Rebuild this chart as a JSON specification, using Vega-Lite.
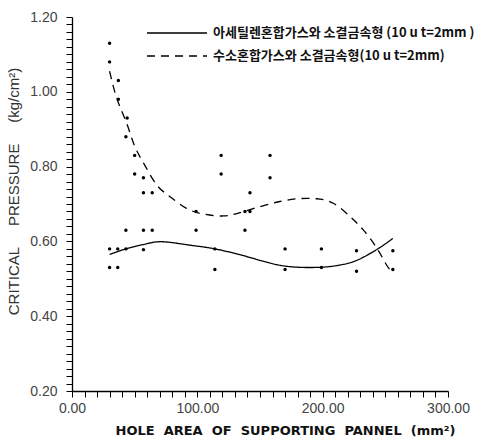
{
  "$schema": "https://vega.github.io/schema/vega-lite/v6.json",
  "width": 376,
  "height": 374,
  "autosize": {"type": "none"},
  "padding": {"left": 72, "top": 17, "right": 36, "bottom": 50},
  "background": "white",
  "config": {
    "view": {"stroke": null},
    "axis": {
      "grid": false,
      "domain": true,
      "ticks": true,
      "domainColor": "#000000",
      "tickColor": "#000000",
      "domainWidth": 1.3,
      "tickWidth": 1,
      "labelFont": "Liberation Sans",
      "labelFontSize": 14,
      "labelColor": "#444",
      "labelOverlap": false,
      "labelFlush": false,
      "labelBound": false
    }
  },
  "datasets": {
    "points": [
      {"area": 30, "pressure": 1.13}, {"area": 30, "pressure": 1.08},
      {"area": 37, "pressure": 1.03}, {"area": 37, "pressure": 0.98},
      {"area": 44, "pressure": 0.93}, {"area": 43, "pressure": 0.88},
      {"area": 50, "pressure": 0.83}, {"area": 50, "pressure": 0.78},
      {"area": 57, "pressure": 0.77}, {"area": 57, "pressure": 0.73},
      {"area": 64, "pressure": 0.73}, {"area": 43, "pressure": 0.63},
      {"area": 57, "pressure": 0.63}, {"area": 64, "pressure": 0.63},
      {"area": 99, "pressure": 0.68}, {"area": 99, "pressure": 0.63},
      {"area": 30, "pressure": 0.58}, {"area": 36.5, "pressure": 0.58},
      {"area": 43, "pressure": 0.58}, {"area": 57, "pressure": 0.578},
      {"area": 30, "pressure": 0.53}, {"area": 36.5, "pressure": 0.53},
      {"area": 119, "pressure": 0.83}, {"area": 119, "pressure": 0.78},
      {"area": 158, "pressure": 0.83}, {"area": 158, "pressure": 0.77},
      {"area": 142, "pressure": 0.73}, {"area": 138, "pressure": 0.68},
      {"area": 142, "pressure": 0.68}, {"area": 138, "pressure": 0.63},
      {"area": 114, "pressure": 0.58}, {"area": 114, "pressure": 0.525},
      {"area": 170, "pressure": 0.58}, {"area": 170, "pressure": 0.525},
      {"area": 199, "pressure": 0.58}, {"area": 199, "pressure": 0.53},
      {"area": 227, "pressure": 0.575}, {"area": 227, "pressure": 0.52},
      {"area": 256, "pressure": 0.575}, {"area": 256, "pressure": 0.525}
    ],
    "curves": [
      {"series": "아세틸렌혼합가스와  소결금속형 (10 u  t=2mm )", "area": 30, "pressure": 0.565},
      {"series": "아세틸렌혼합가스와  소결금속형 (10 u  t=2mm )", "area": 45, "pressure": 0.582},
      {"series": "아세틸렌혼합가스와  소결금속형 (10 u  t=2mm )", "area": 60, "pressure": 0.594},
      {"series": "아세틸렌혼합가스와  소결금속형 (10 u  t=2mm )", "area": 73, "pressure": 0.599},
      {"series": "아세틸렌혼합가스와  소결금속형 (10 u  t=2mm )", "area": 94, "pressure": 0.59},
      {"series": "아세틸렌혼합가스와  소결금속형 (10 u  t=2mm )", "area": 114, "pressure": 0.58},
      {"series": "아세틸렌혼합가스와  소결금속형 (10 u  t=2mm )", "area": 142, "pressure": 0.557},
      {"series": "아세틸렌혼합가스와  소결금속형 (10 u  t=2mm )", "area": 170, "pressure": 0.534},
      {"series": "아세틸렌혼합가스와  소결금속형 (10 u  t=2mm )", "area": 199, "pressure": 0.531},
      {"series": "아세틸렌혼합가스와  소결금속형 (10 u  t=2mm )", "area": 214, "pressure": 0.537},
      {"series": "아세틸렌혼합가스와  소결금속형 (10 u  t=2mm )", "area": 227, "pressure": 0.549},
      {"series": "아세틸렌혼합가스와  소결금속형 (10 u  t=2mm )", "area": 244, "pressure": 0.58},
      {"series": "아세틸렌혼합가스와  소결금속형 (10 u  t=2mm )", "area": 256, "pressure": 0.608},
      {"series": "수소혼합가스와 소결금속형(10 u t=2mm)", "area": 30, "pressure": 1.055},
      {"series": "수소혼합가스와 소결금속형(10 u t=2mm)", "area": 36, "pressure": 0.98},
      {"series": "수소혼합가스와 소결금속형(10 u t=2mm)", "area": 43.6, "pressure": 0.916},
      {"series": "수소혼합가스와 소결금속형(10 u t=2mm)", "area": 50, "pressure": 0.855},
      {"series": "수소혼합가스와 소결금속형(10 u t=2mm)", "area": 58, "pressure": 0.804},
      {"series": "수소혼합가스와 소결금속형(10 u t=2mm)", "area": 67.6, "pressure": 0.751},
      {"series": "수소혼합가스와 소결금속형(10 u t=2mm)", "area": 78, "pressure": 0.72},
      {"series": "수소혼합가스와 소결금속형(10 u t=2mm)", "area": 91, "pressure": 0.689},
      {"series": "수소혼합가스와 소결금속형(10 u t=2mm)", "area": 105, "pressure": 0.673},
      {"series": "수소혼합가스와 소결금속형(10 u t=2mm)", "area": 121, "pressure": 0.668},
      {"series": "수소혼합가스와 소결금속형(10 u t=2mm)", "area": 134, "pressure": 0.677},
      {"series": "수소혼합가스와 소결금속형(10 u t=2mm)", "area": 150, "pressure": 0.693},
      {"series": "수소혼합가스와 소결금속형(10 u t=2mm)", "area": 165, "pressure": 0.706},
      {"series": "수소혼합가스와 소결금속형(10 u t=2mm)", "area": 180, "pressure": 0.714},
      {"series": "수소혼합가스와 소결금속형(10 u t=2mm)", "area": 195, "pressure": 0.714},
      {"series": "수소혼합가스와 소결금속형(10 u t=2mm)", "area": 208.5, "pressure": 0.702},
      {"series": "수소혼합가스와 소결금속형(10 u t=2mm)", "area": 222, "pressure": 0.666},
      {"series": "수소혼합가스와 소결금속형(10 u t=2mm)", "area": 232.6, "pressure": 0.63},
      {"series": "수소혼합가스와 소결금속형(10 u t=2mm)", "area": 243.6, "pressure": 0.58},
      {"series": "수소혼합가스와 소결금속형(10 u t=2mm)", "area": 251, "pressure": 0.537},
      {"series": "수소혼합가스와 소결금속형(10 u t=2mm)", "area": 255, "pressure": 0.52}
    ],
    "frame": [{}],
    "yticks": [
      {"v": 0.2}, {"v": 0.22}, {"v": 0.24}, {"v": 0.26}, {"v": 0.28},
      {"v": 0.3}, {"v": 0.32}, {"v": 0.34}, {"v": 0.36}, {"v": 0.38},
      {"v": 0.4}, {"v": 0.42}, {"v": 0.44}, {"v": 0.46}, {"v": 0.48},
      {"v": 0.5}, {"v": 0.52}, {"v": 0.54}, {"v": 0.56}, {"v": 0.58},
      {"v": 0.6}, {"v": 0.62}, {"v": 0.64}, {"v": 0.66}, {"v": 0.68},
      {"v": 0.7}, {"v": 0.72}, {"v": 0.74}, {"v": 0.76}, {"v": 0.78},
      {"v": 0.8}, {"v": 0.82}, {"v": 0.84}, {"v": 0.86}, {"v": 0.88},
      {"v": 0.9}, {"v": 0.92}, {"v": 0.94}, {"v": 0.96}, {"v": 0.98},
      {"v": 1.0}, {"v": 1.02}, {"v": 1.04}, {"v": 1.06}, {"v": 1.08},
      {"v": 1.1}, {"v": 1.12}, {"v": 1.14}, {"v": 1.16}, {"v": 1.18},
      {"v": 1.2}
    ],
    "xticks": [
      {"v": 0}, {"v": 10}, {"v": 20}, {"v": 30}, {"v": 40}, {"v": 50},
      {"v": 60}, {"v": 70}, {"v": 80}, {"v": 90}, {"v": 100}, {"v": 110},
      {"v": 120}, {"v": 130}, {"v": 140}, {"v": 150}, {"v": 160}, {"v": 170},
      {"v": 180}, {"v": 190}, {"v": 200}, {"v": 210}, {"v": 220}, {"v": 230},
      {"v": 240}, {"v": 250}, {"v": 260}, {"v": 270}, {"v": 280}, {"v": 290},
      {"v": 300}
    ]
  },
  "encoding": {
    "x": {
      "field": "area",
      "type": "quantitative",
      "scale": {"domain": [0, 300], "nice": false, "zero": false},
      "axis": {
        "tickCount": 30,
        "tickSize": 6,
        "labelPadding": 4,
        "labelExpr": "datum.value % 100 === 0 ? format(datum.value, '.2f') : ''",
        "title": "HOLE\u00a0\u00a0AREA\u00a0\u00a0OF\u00a0\u00a0SUPPORTING\u00a0\u00a0PANNEL\u00a0\u00a0(mm²)",
        "titleFont": "DejaVu Sans",
        "titleFontWeight": "bold",
        "titleFontSize": 13,
        "titleColor": "#111",
        "titleX": 213,
        "titleY": 39,
        "titleBaseline": "middle",
        "titleAlign": "center"
      }
    },
    "y": {
      "field": "pressure",
      "type": "quantitative",
      "scale": {"domain": [0.2, 1.2], "nice": false, "zero": false},
      "axis": {
        "tickCount": 50,
        "tickSize": 6,
        "labelPadding": 9,
        "labelExpr": "abs(datum.value * 5 - round(datum.value * 5)) < 0.001 ? format(datum.value, '.2f') : ''",
        "title": "CRITICAL\u00a0\u00a0\u00a0\u00a0\u00a0PRESSURE\u00a0\u00a0\u00a0\u00a0\u00a0(kg/cm²)",
        "titleFont": "Liberation Sans",
        "titleFontWeight": "normal",
        "titleFontSize": 15,
        "titleColor": "#333",
        "titleAngle": -90,
        "titleX": -51,
        "titleY": 174,
        "titleAlign": "center",
        "titleBaseline": "bottom"
      }
    }
  },
  "layer": [
    {
      "data": {"name": "frame"},
      "mark": {"type": "rect", "fill": "black", "stroke": "black", "strokeWidth": 0.6, "height": 1},
      "encoding": {
        "x": {"datum": 0, "type": "quantitative"},
        "x2": {"datum": 300},
        "y": {"datum": 0.2, "type": "quantitative"}
      }
    },
    {
      "data": {"name": "frame"},
      "mark": {"type": "rect", "fill": "black", "stroke": "black", "strokeWidth": 0.6, "width": 1},
      "encoding": {
        "x": {"datum": 0, "type": "quantitative"},
        "y": {"datum": 0.2, "type": "quantitative"},
        "y2": {"datum": 1.2}
      }
    },
    {
      "data": {"name": "yticks"},
      "mark": {"type": "tick", "orient": "horizontal", "size": 6, "thickness": 1, "xOffset": -3, "color": "black", "opacity": 1},
      "encoding": {
        "x": {"datum": 0, "type": "quantitative"},
        "y": {"field": "v", "type": "quantitative"}
      }
    },
    {
      "data": {"name": "xticks"},
      "mark": {"type": "tick", "orient": "vertical", "size": 6, "thickness": 1, "yOffset": 3, "color": "black", "opacity": 1},
      "encoding": {
        "x": {"field": "v", "type": "quantitative"},
        "y": {"datum": 0.2, "type": "quantitative"}
      }
    },
    {
      "data": {"name": "points"},
      "mark": {"type": "point", "filled": true, "color": "black", "size": 12, "opacity": 1}
    },
    {
      "data": {"name": "curves"},
      "mark": {"type": "line", "interpolate": "natural", "color": "black", "strokeWidth": 1.3},
      "encoding": {
        "detail": {"field": "series"},
        "strokeDash": {
          "field": "series",
          "type": "nominal",
          "scale": {
            "domain": ["아세틸렌혼합가스와  소결금속형 (10 u  t=2mm )", "수소혼합가스와 소결금속형(10 u t=2mm)"],
            "range": [[1, 0], [8, 6]]
          },
          "legend": {
            "title": null,
            "orient": "none",
            "legendX": 98,
            "legendY": 9,
            "padding": 0,
            "rowPadding": 9,
            "symbolType": "M-5,0H5",
            "symbolSize": 144,
            "symbolStrokeColor": "black",
            "symbolStrokeWidth": 1.3,
            "labelOffset": 29,
            "labelFont": "Noto Sans CJK KR",
            "labelFontSize": 13,
            "labelFontWeight": "bold",
            "labelColor": "#111",
            "labelLimit": 0
          }
        }
      }
    }
  ]
}
